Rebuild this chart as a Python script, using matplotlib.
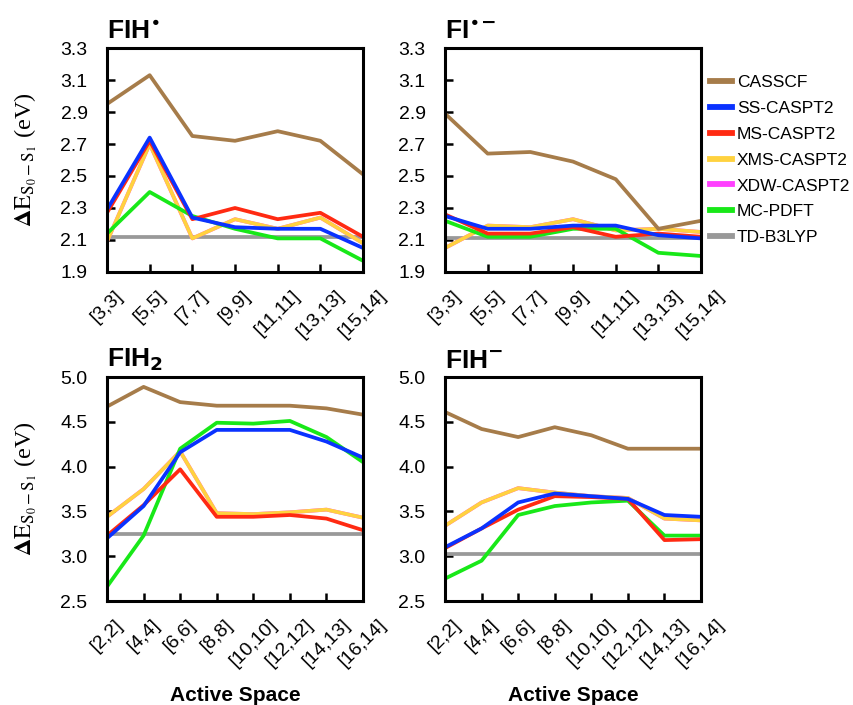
import matplotlib
matplotlib.use("Agg")
import matplotlib.pyplot as plt

plt.rcParams["font.family"] = ["Liberation Sans", "DejaVu Sans"]

methods = ["CASSCF", "SS-CASPT2", "MS-CASPT2", "XMS-CASPT2", "XDW-CASPT2", "MC-PDFT", "TD-B3LYP"]
colors = {
    "CASSCF": "#A67C4A",
    "SS-CASPT2": "#0A32FF",
    "MS-CASPT2": "#FF2A12",
    "XMS-CASPT2": "#FFD23F",
    "XDW-CASPT2": "#FF40FF",
    "MC-PDFT": "#18E818",
    "TD-B3LYP": "#999999",
}
# draw order (bottom to top)
draw_order = ["TD-B3LYP", "XDW-CASPT2", "XMS-CASPT2", "MC-PDFT", "MS-CASPT2", "CASSCF", "SS-CASPT2"]

spaces_top = ["[3,3]", "[5,5]", "[7,7]", "[9,9]", "[11,11]", "[13,13]", "[15,14]"]
spaces_bot = ["[2,2]", "[4,4]", "[6,6]", "[8,8]", "[10,10]", "[12,12]", "[14,13]", "[16,14]"]

# FIH radical
fih_rad = {
    "CASSCF": [2.95, 3.13, 2.75, 2.72, 2.78, 2.72, 2.51],
    "SS-CASPT2": [2.29, 2.74, 2.24, 2.18, 2.17, 2.17, 2.05],
    "MS-CASPT2": [2.27, 2.72, 2.23, 2.30, 2.23, 2.27, 2.12],
    "XMS-CASPT2": [2.09, 2.70, 2.11, 2.23, 2.17, 2.24, 2.08],
    "XDW-CASPT2": [2.09, 2.70, 2.11, 2.23, 2.17, 2.24, 2.08],
    "MC-PDFT": [2.14, 2.40, 2.25, 2.17, 2.11, 2.11, 1.97],
    "TD-B3LYP": [2.12] * 7,
}
# FI radical anion
fi_anion = {
    "CASSCF": [2.89, 2.64, 2.65, 2.59, 2.48, 2.17, 2.22],
    "SS-CASPT2": [2.25, 2.17, 2.17, 2.19, 2.19, 2.13, 2.11],
    "MS-CASPT2": [2.26, 2.14, 2.14, 2.18, 2.12, 2.14, 2.12],
    "XMS-CASPT2": [2.05, 2.19, 2.18, 2.23, 2.16, 2.17, 2.15],
    "XDW-CASPT2": [2.05, 2.19, 2.18, 2.23, 2.16, 2.17, 2.15],
    "MC-PDFT": [2.22, 2.12, 2.12, 2.17, 2.17, 2.02, 2.00],
    "TD-B3LYP": [2.11] * 7,
}
# FIH2
fih2 = {
    "CASSCF": [4.67, 4.89, 4.72, 4.68, 4.68, 4.68, 4.65, 4.58],
    "SS-CASPT2": [3.20, 3.56, 4.16, 4.41, 4.41, 4.41, 4.28, 4.10],
    "MS-CASPT2": [3.23, 3.57, 3.97, 3.44, 3.44, 3.46, 3.42, 3.29],
    "XMS-CASPT2": [3.44, 3.75, 4.17, 3.48, 3.47, 3.49, 3.52, 3.43],
    "XDW-CASPT2": [3.44, 3.75, 4.17, 3.48, 3.47, 3.49, 3.52, 3.43],
    "MC-PDFT": [2.66, 3.23, 4.20, 4.49, 4.48, 4.51, 4.33, 4.05],
    "TD-B3LYP": [3.25] * 8,
}
# FIH anion
fih_anion = {
    "CASSCF": [4.61, 4.42, 4.33, 4.44, 4.35, 4.20, 4.20, 4.20],
    "SS-CASPT2": [3.10, 3.31, 3.60, 3.70, 3.67, 3.64, 3.46, 3.44],
    "MS-CASPT2": [3.09, 3.31, 3.52, 3.67, 3.66, 3.64, 3.18, 3.19],
    "XMS-CASPT2": [3.34, 3.60, 3.76, 3.71, 3.67, 3.65, 3.42, 3.40],
    "XDW-CASPT2": [3.34, 3.60, 3.76, 3.71, 3.67, 3.65, 3.42, 3.40],
    "MC-PDFT": [2.75, 2.95, 3.46, 3.56, 3.60, 3.62, 3.23, 3.23],
    "TD-B3LYP": [3.03] * 8,
}

panels = [
    (fih_rad, spaces_top, r"FIH$^{\bullet}$", (1.9, 3.3), 0.2),
    (fi_anion, spaces_top, r"FI$^{\bullet\mathbf{-}}$", (1.9, 3.3), 0.2),
    (fih2, spaces_bot, r"FIH$_{\mathbf{2}}$", (2.5, 5.0), 0.5),
    (fih_anion, spaces_bot, r"FIH$^{\mathbf{-}}$", (2.5, 5.0), 0.5),
]
positions = [
    [0.1253, 0.6142, 0.2998, 0.3177],
    [0.5211, 0.6142, 0.2998, 0.3177],
    [0.1253, 0.1475, 0.2998, 0.3177],
    [0.5211, 0.1475, 0.2998, 0.3177],
]

fig = plt.figure(figsize=(8.54, 7.05), dpi=100)
axes = []
for i, (data, labels, title, ylim, step) in enumerate(panels):
    ax = fig.add_axes(positions[i])
    axes.append(ax)
    xs = list(range(len(labels)))
    for m in draw_order:
        ax.plot(xs, data[m], color=colors[m], lw=2.7, label=m)
    ax.set_xlim(0, len(labels) - 1)
    ax.set_ylim(*ylim)
    n = int(round((ylim[1] - ylim[0]) / step))
    ax.set_yticks([ylim[0] + k * step for k in range(n + 1)])
    ax.set_yticklabels([f"{ylim[0] + k * step:.1f}" for k in range(n + 1)])
    ax.set_xticks(xs)
    ax.set_xticklabels(labels, rotation=45, ha="center")
    ax.tick_params(axis="both", direction="in", length=6, width=1.8, labelsize=14, colors="black")
    ax.tick_params(axis="y", pad=14)
    ax.tick_params(axis="x", pad=11)
    for s in ax.spines.values():
        s.set_linewidth(2.2)
    ax.text(0.0, 1.02, title, transform=ax.transAxes, fontsize=19, fontweight="bold",
            ha="left", va="bottom", math_fontfamily="dejavusans")
    if i % 2 == 0:
        ax.set_ylabel(r"$\mathbf{\Delta}\mathrm{E}_{\mathrm{S_0-S_1}}$ (eV)", fontsize=17.5,
                      family="Liberation Serif", math_fontfamily="stix")
        ax.yaxis.set_label_coords(-0.265, 0.5)
    if i >= 2:
        fig.text(positions[i][0] + positions[i][2] / 2, 0.014, "Active Space",
                 fontsize=15, fontweight="bold", ha="center", va="center")

handles, leg_labels = axes[0].get_legend_handles_labels()
hmap = dict(zip(leg_labels, handles))
leg = fig.legend([hmap[m] for m in methods], methods, loc="upper left",
                 bbox_to_anchor=(0.8315, 0.894), frameon=False, fontsize=12.5,
                 handlelength=1.25, handletextpad=0.3, labelspacing=0.62, borderpad=0,
                 borderaxespad=0)
for h in leg.get_lines():
    h.set_linewidth(4.2)

fig.savefig("out.png", dpi=100)
